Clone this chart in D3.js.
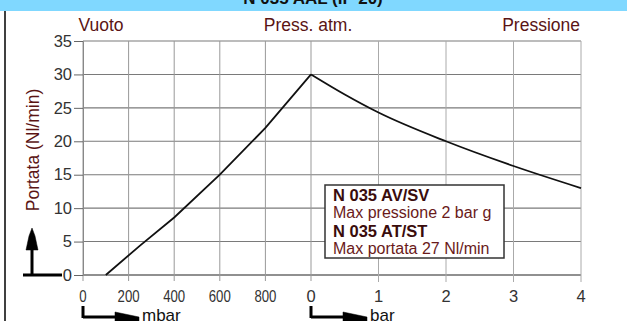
<!DOCTYPE html>
<html>
<head>
<meta charset="utf-8">
<script src="https://cdn.jsdelivr.net/npm/d3@7"></script>
<style>
  body { margin: 0; background: #fff; }
  svg { display: block; font-family: "Liberation Sans", Arial, sans-serif; }
</style>
</head>
<body>
<div id="chart"></div>
<script>
// values
var vacuumTicks = [0, 200, 400, 600, 800];
var pressureTicks = [0, 1, 2, 3, 4];
var yTicks = [0, 5, 10, 15, 20, 25, 30, 35];
var vacuumMbar = [100, 250, 400, 600, 800, 1000];
var vacuumFlow = [0, 4.4, 8.6, 15, 22, 30];
var pressureBar = [0, 0.5, 1, 2, 3, 4];
var pressureFlow = [30, 27, 24.3, 20, 16.3, 13];
var legendLines = ["N 035 AV/SV", "Max pressione 2 bar g", "N 035 AT/ST", "Max portata 27 Nl/min"];

var W = 627, H = 321;
var svg = d3.select("#chart").append("svg").attr("width", W).attr("height", H);

var xm = d3.scaleLinear().domain([0, 1000]).range([83, 311]);
var xb = d3.scaleLinear().domain([0, 4]).range([311, 581]);
var y = d3.scaleLinear().domain([0, 35]).range([275, 41]);

// header band
svg.append("rect").attr("x", 0).attr("y", 0).attr("width", W).attr("height", 11).attr("fill", "#80d8ff");
svg.append("text").attr("x", 313).attr("y", 4).attr("text-anchor", "middle")
  .attr("font-size", 17).attr("font-weight", "bold").attr("fill", "#111")
  .text("N 035 AAL (IP 20)");
svg.append("line").attr("x1", 5).attr("x2", 5).attr("y1", 11).attr("y2", H)
  .attr("stroke", "#000").attr("stroke-width", 1.5);

// grid
var g = svg.append("g");
g.selectAll(".hg").data(yTicks).enter().append("line")
  .attr("x1", 83).attr("x2", 581)
  .attr("y1", function(d){ return y(d); }).attr("y2", function(d){ return y(d); })
  .attr("stroke", function(d){ return d === 0 ? "#222" : "#7a7a7a"; }).attr("stroke-width", 1.1);
g.selectAll(".vm").data(vacuumTicks.concat([1000])).enter().append("line")
  .attr("x1", function(d){ return xm(d); }).attr("x2", function(d){ return xm(d); })
  .attr("y1", y(35)).attr("y2", y(0) + 6)
  .attr("stroke", "#999").attr("stroke-width", 1);
g.selectAll(".vb").data(pressureTicks.slice(1)).enter().append("line")
  .attr("x1", function(d){ return xb(d); }).attr("x2", function(d){ return xb(d); })
  .attr("y1", y(35)).attr("y2", y(0) + 7)
  .attr("stroke", "#aaa").attr("stroke-width", 1);

// y axis
var yAxis = svg.append("g").attr("transform", "translate(83,0)")
  .call(d3.axisLeft(y).tickValues(yTicks).tickSize(9).tickPadding(2));
yAxis.select(".domain").attr("stroke", "#888");
yAxis.selectAll(".tick line").attr("stroke", "#666");
yAxis.selectAll("text").attr("font-size", 16.5).attr("fill", "#333")
  .attr("font-family", "Liberation Sans, Arial, sans-serif");

// x tick labels
svg.append("g").selectAll("text").data(vacuumTicks).enter().append("text")
  .attr("x", function(d){ return xm(d); }).attr("y", 302).attr("text-anchor", "middle")
  .attr("font-size", 16.5).attr("fill", "#333")
  .attr("transform", function(d){ var x = xm(d); return "translate(" + x + ",0) scale(0.8,1) translate(" + (-x) + ",0)"; })
  .text(function(d){ return d; });
svg.append("g").selectAll("text").data(pressureTicks).enter().append("text")
  .attr("x", function(d){ return xb(d); }).attr("y", 302).attr("text-anchor", "middle")
  .attr("font-size", 16.5).attr("fill", "#333")
  .text(function(d){ return d; });

// curves
var lineM = d3.line().x(function(d){ return xm(d[0]); }).y(function(d){ return y(d[1]); });
var lineB = d3.line().x(function(d){ return xb(d[0]); }).y(function(d){ return y(d[1]); }).curve(d3.curveMonotoneX);
svg.append("path").datum(d3.zip(vacuumMbar, vacuumFlow)).attr("d", lineM)
  .attr("fill", "none").attr("stroke", "#111").attr("stroke-width", 1.8);
svg.append("path").datum(d3.zip(pressureBar, pressureFlow)).attr("d", lineB)
  .attr("fill", "none").attr("stroke", "#111").attr("stroke-width", 1.8);

// header labels
var red = "#5a1414";
svg.append("text").attr("x", 101).attr("y", 31).attr("text-anchor", "middle")
  .attr("font-size", 17.5).attr("fill", red).text("Vuoto");
svg.append("text").attr("x", 308).attr("y", 31).attr("text-anchor", "middle")
  .attr("font-size", 17.5).attr("fill", red).text("Press. atm.");
svg.append("text").attr("x", 580).attr("y", 31).attr("text-anchor", "end")
  .attr("font-size", 17.5).attr("fill", red).text("Pressione");
svg.append("text").attr("transform", "translate(39,150) rotate(-90)").attr("text-anchor", "middle")
  .attr("font-size", 17.5).attr("fill", red).text("Portata (Nl/min)");

// legend box
svg.append("rect").attr("x", 325).attr("y", 185).attr("width", 179).attr("height", 73)
  .attr("fill", "#fff").attr("stroke", "#333").attr("stroke-width", 1.5);
var lg = svg.append("g");
lg.selectAll("text").data(legendLines).enter().append("text")
  .attr("x", 333)
  .attr("y", function(d, i){ return [201, 218, 237, 254][i]; })
  .attr("font-size", function(d, i){ return i % 2 === 0 ? 16.5 : 16; })
  .attr("font-weight", function(d, i){ return i % 2 === 0 ? "bold" : "normal"; })
  .attr("fill", function(d, i){ return i % 2 === 0 ? "#3a0c0c" : "#6a1a1a"; })
  .text(function(d){ return d; });

// unit arrows
var arrows = svg.append("g").attr("fill", "#000").attr("stroke", "#000");
// y arrow
arrows.append("line").attr("x1", 32).attr("x2", 32).attr("y1", 275).attr("y2", 245).attr("stroke-width", 3);
arrows.append("line").attr("x1", 23).attr("x2", 62).attr("y1", 275).attr("y2", 275).attr("stroke-width", 3);
arrows.append("path").attr("d", "M32,228 L29,236 L26,250 L38,250 L35,236 Z").attr("stroke-width", 0.5);
// x arrows
[[83, "mbar"], [311, "bar"]].forEach(function(a){
  var x0 = a[0];
  arrows.append("line").attr("x1", x0).attr("x2", x0).attr("y1", 306).attr("y2", 318).attr("stroke-width", 3);
  arrows.append("line").attr("x1", x0).attr("x2", x0 + 44).attr("y1", 317).attr("y2", 317).attr("stroke-width", 3);
  arrows.append("path").attr("d", "M" + (x0 + 32) + ",312 L" + (x0 + 56) + ",317 L" + (x0 + 56) + ",321 L" + (x0 + 32) + ",321 Z").attr("stroke-width", 0.5);
  svg.append("text").attr("x", x0 + 59).attr("y", 321).attr("font-size", 17).attr("fill", "#111").text(a[1]);
});
</script>
</body>
</html>
